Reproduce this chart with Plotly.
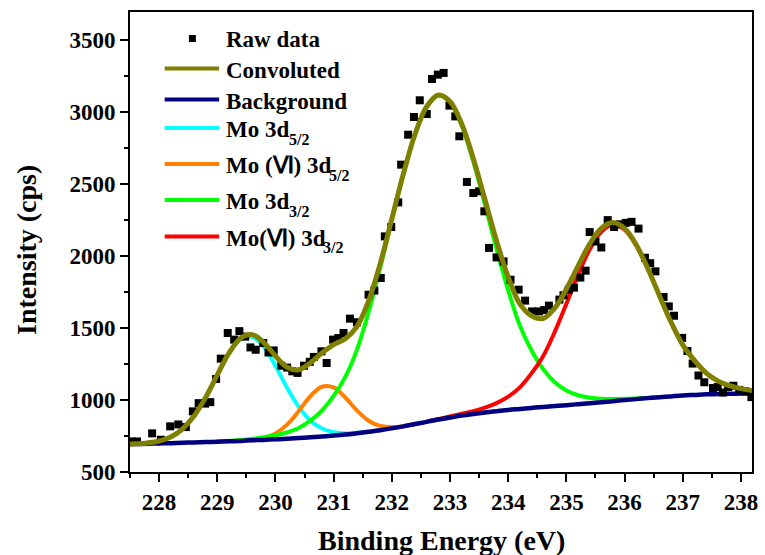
import plotly.graph_objects as go

# ---- Mo 3d XPS spectrum ----
raw_be = [227.53, 227.62, 227.88, 228.03, 228.19, 228.33, 228.46, 228.58, 228.68, 228.79,
          228.88, 228.98, 229.06, 229.18, 229.29, 229.38, 229.48, 229.57, 229.66, 229.79,
          229.88, 229.97, 230.10, 230.20, 230.29, 230.38, 230.49, 230.59, 230.66, 230.79,
          230.88, 230.99, 231.08, 231.17, 231.28, 231.40, 231.60, 231.70, 231.81, 231.88,
          231.99, 232.11, 232.16, 232.28, 232.38, 232.48, 232.60, 232.69, 232.79, 232.89,
          232.99, 233.09, 233.16, 233.29, 233.40, 233.50, 233.59, 233.67, 233.80, 233.92,
          234.04, 234.18, 234.29, 234.41, 234.53, 234.62, 234.70, 234.88, 234.95, 235.04,
          235.13, 235.24, 235.33, 235.40, 235.50, 235.60, 235.71, 235.82, 235.92, 236.02,
          236.12, 236.24, 236.35, 236.44, 236.53, 236.67, 236.76, 236.85, 236.99, 237.08,
          237.17, 237.27, 237.37, 237.52, 237.60, 237.69, 237.78, 237.87, 237.97, 238.07, 238.18]
raw_cps = [712, 712, 768, 724, 817, 830, 812, 921, 978, 975,
           985, 1146, 1287, 1465, 1419, 1478, 1440, 1365, 1349, 1396,
           1330, 1344, 1238, 1225, 1199, 1188, 1238, 1265, 1299, 1338,
           1257, 1419, 1430, 1465, 1565, 1540, 1731, 1760, 1847, 2136,
           2201, 2372, 2634, 2842, 2965, 3081, 2986, 3229, 3259, 3271,
           3044, 2969, 2831, 2514, 2437, 2449, 2310, 2056, 1990, 1962,
           1835, 1766, 1690, 1615, 1615, 1625, 1655, 1697, 1727, 1766,
           1780, 1850, 1898, 2166, 2100, 2059, 2249, 2201, 2220, 2230,
           2237, 2190, 1988, 1950, 1893, 1715, 1650, 1585, 1431, 1340,
           1253, 1170, 1123, 1083, 1090, 1052, 1090, 1099, 1070, 1060, 1020]

# energy grid shared by the fitted curves
fit_be = [227.4, 227.6, 227.8, 228.0, 228.2, 228.4, 228.6, 228.8, 229.0, 229.2,
          229.4, 229.6, 229.8, 230.0, 230.2, 230.4, 230.6, 230.8, 231.0, 231.2,
          231.4, 231.6, 231.8, 232.0, 232.2, 232.4, 232.6, 232.8, 233.0, 233.2,
          233.4, 233.6, 233.8, 234.0, 234.2, 234.4, 234.6, 234.8, 235.0, 235.2,
          235.4, 235.6, 235.8, 236.0, 236.2, 236.4, 236.6, 236.8, 237.0, 237.2,
          237.4, 237.6, 237.8, 238.0, 238.2, 238.4]
background = [692, 694, 696, 698, 700, 703, 705, 708, 710, 713,
              716, 720, 723, 727, 731, 736, 741, 747, 753, 760,
              769, 779, 790, 803, 817, 833, 848, 864, 878, 892,
              903, 913, 922, 931, 938, 945, 952, 958, 964, 971,
              978, 985, 992, 999, 1006, 1013, 1019, 1025, 1031, 1035,
              1039, 1041, 1043, 1045, 1046, 1047]
convoluted = [693, 696, 702, 715, 743, 798, 888, 1018, 1174, 1325,
              1429, 1454, 1399, 1306, 1227, 1210, 1258, 1327, 1385, 1425,
              1509, 1687, 1946, 2257, 2573, 2847, 3038, 3118, 3073, 2918,
              2677, 2392, 2104, 1853, 1667, 1585, 1566, 1638, 1770, 1930,
              2083, 2192, 2232, 2191, 2078, 1913, 1724, 1540, 1383, 1275,
              1189, 1133, 1099, 1079, 1066, 1059]
# components (peak + background) over the grid spans where they rise
mo_3d52 = [693, 696, 702, 715, 743, 798, 888, 1018, 1173, 1322,
           1422, 1439, 1368, 1237, 1085, 953, 858, 802, 776, 768, 772, 780]
mo6_3d52 = [717, 724, 736, 768, 829, 923, 1026, 1092, 1087, 1017,
            927, 856, 820, 812, 819, 833]
mo_3d32 = [711, 716, 722, 731, 741, 755, 775, 806, 856, 927,
           1028, 1160, 1348, 1609, 1916, 2248, 2571, 2847, 3036, 3114,
           3066, 2906, 2657, 2358, 2048, 1761, 1517, 1345, 1214, 1123,
           1066, 1033, 1016, 1009, 1007, 1008, 1011, 1016, 1020]
mo6_3d32 = [850, 868, 885, 904, 923, 947, 978, 1023, 1088, 1185,
            1304, 1473, 1668, 1868, 2045, 2168, 2217, 2182, 2073, 1910,
            1723, 1540, 1383, 1275, 1189, 1133, 1099, 1079, 1066, 1059]

assert len(raw_be) == len(raw_cps)
assert len(fit_be) == len(background) == len(convoluted)

x_ticks = [228, 229, 230, 231, 232, 233, 234, 235, 236, 237, 238]
y_ticks = [500, 1000, 1500, 2000, 2500, 3000, 3500]

legend_labels = ["Raw data", "Convoluted", "Background", "Mo 3d",
                 "Mo (Ⅵ) 3d", "Mo 3d", "Mo(Ⅵ) 3d"]
legend_subs = [None, None, None, "5/2", "5/2", "3/2", "3/2"]

C_CONV = "#808000"
C_BG = "#000080"
C_CYAN = "#00FFFF"
C_ORANGE = "#FF8000"
C_GREEN = "#00FF00"
C_RED = "#FF0000"

SERIF = "Liberation Serif, Times New Roman, serif"

W, H = 765, 555
ML, MR, MT, MB = 130, 7, 12, 83
PW, PH = W - ML - MR, H - MT - MB


def px(x):
    return (x - ML) / PW


def py(y):
    return (H - MB - y) / PH


fig = go.Figure()
line_spec = [
    (fit_be[0:22], mo_3d52, C_CYAN, 4),
    (fit_be[10:26], mo6_3d52, C_ORANGE, 4),
    (fit_be[8:47], mo_3d32, C_GREEN, 4),
    (fit_be[26:56], mo6_3d32, C_RED, 4),
    (fit_be, background, C_BG, 4.5),
]
for xs, ys, col, w in line_spec:
    fig.add_trace(go.Scatter(x=xs, y=ys, mode="lines", showlegend=False,
                             line=dict(color=col, width=w, shape="spline", smoothing=1.0),
                             hoverinfo="skip"))

fig.add_trace(go.Scatter(x=raw_be, y=raw_cps, mode="markers", showlegend=False,
                         marker=dict(symbol="square", size=8, color="black",
                                     line=dict(width=0))))
fig.add_trace(go.Scatter(x=fit_be, y=convoluted, mode="lines", showlegend=False,
                         line=dict(color=C_CONV, width=5, shape="spline", smoothing=1.0)))

# legend drawn in paper space: symbol, label, and a lowered small index
leg_cols = [None, C_CONV, C_BG, C_CYAN, C_ORANGE, C_GREEN, C_RED]
leg_y = [38.5, 68.5, 99.5, 128, 164, 200, 236.5]
sub_left = [None, None, None, 288.5, 328.5, 288.5, 322.5]
shapes = []
annotations = []
for lab, sub, col, yy, sx in zip(legend_labels, legend_subs, leg_cols, leg_y, sub_left):
    if col is None:
        shapes.append(dict(type="rect", xref="paper", yref="paper",
                           x0=px(189.5), x1=px(196.5), y0=py(yy + 3.5), y1=py(yy - 3.5),
                           fillcolor="black", line=dict(width=0)))
    else:
        shapes.append(dict(type="line", xref="paper", yref="paper",
                           x0=px(165), x1=px(220), y0=py(yy), y1=py(yy),
                           line=dict(color=col, width=4)))
    annotations.append(dict(text=lab, xref="paper", yref="paper", x=px(225), y=py(yy + 1.5),
                            xanchor="left", yanchor="middle", showarrow=False,
                            font=dict(family=SERIF, size=23, color="black", weight="bold")))
    if sub:
        annotations.append(dict(text=sub, xref="paper", yref="paper", x=px(sx), y=py(yy + 11.5),
                                xanchor="left", yanchor="middle", showarrow=False,
                                font=dict(family=SERIF, size=16, color="black", weight="bold")))

annotations.append(dict(text="Binding Energy (eV)", xref="paper", yref="paper",
                        x=0.5, y=py(540), xanchor="center", yanchor="middle", showarrow=False,
                        font=dict(family=SERIF, size=28, color="black", weight="bold")))
annotations.append(dict(text="Intensity (cps)", xref="paper", yref="paper",
                        x=px(25), y=py(250), xanchor="center", yanchor="middle", textangle=-90,
                        showarrow=False,
                        font=dict(family=SERIF, size=28, color="black", weight="bold")))

axis_common = dict(showgrid=False, zeroline=False, showline=True, linecolor="black",
                   linewidth=2, mirror=True, ticks="outside", ticklen=8, tickwidth=2,
                   tickcolor="black",
                   tickfont=dict(family=SERIF, size=23, color="black", weight="bold"))

fig.update_layout(
    width=W, height=H,
    margin=dict(l=ML, r=MR, t=MT, b=MB),
    paper_bgcolor="white", plot_bgcolor="white",
    showlegend=False,
    shapes=shapes, annotations=annotations,
    xaxis=dict(range=[227.5, 238.19], tickmode="array", tickvals=x_ticks,
               ticktext=[str(v) for v in x_ticks],
               minor=dict(ticks="outside", ticklen=4, tickwidth=2, tickcolor="black",
                          tickmode="array",
                          tickvals=[227.5] + [v + 0.5 for v in x_ticks[:-1]]),
               **axis_common),
    yaxis=dict(range=[500, 3694], tickmode="array", tickvals=y_ticks,
               ticktext=[str(v) for v in y_ticks],
               minor=dict(ticks="outside", ticklen=4, tickwidth=2, tickcolor="black",
                          tickmode="array", tickvals=[v + 250 for v in y_ticks[:-1]]),
               **axis_common),
)

fig.write_html("out.html")
